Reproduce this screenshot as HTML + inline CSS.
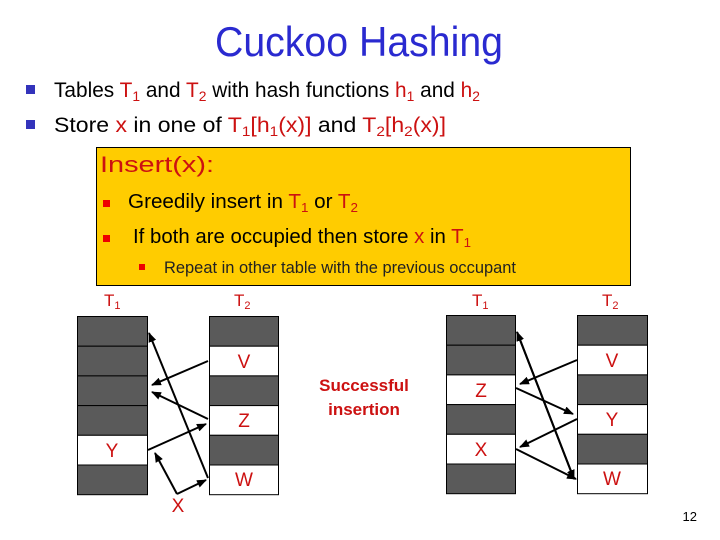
<!DOCTYPE html>
<html><head><meta charset="utf-8"><style>body{margin:0;background:#fff}svg{display:block}</style></head><body>
<svg width="720" height="540" viewBox="0 0 720 540" xmlns="http://www.w3.org/2000/svg" font-family="Liberation Sans, sans-serif">
<defs><marker id="a" markerWidth="10" markerHeight="8" refX="9" refY="4" orient="auto" markerUnits="userSpaceOnUse"><path d="M0,0 L10,4 L0,8 z" fill="#000"/></marker></defs>
<text x="359" y="56" text-anchor="middle" font-size="42" fill="#2a2ad0" textLength="288" lengthAdjust="spacingAndGlyphs">Cuckoo Hashing</text>
<rect x="26" y="85" width="9" height="9" fill="#3333bb"/>
<rect x="26" y="120" width="9" height="9" fill="#3333bb"/>
<text x="54" y="97" font-size="21" textLength="426" lengthAdjust="spacingAndGlyphs">Tables <tspan fill="#cc1111">T</tspan><tspan fill="#cc1111" font-size="14" dy="4">1</tspan><tspan dy="-4"> and </tspan><tspan fill="#cc1111">T</tspan><tspan fill="#cc1111" font-size="14" dy="4">2</tspan><tspan dy="-4"> with hash functions </tspan><tspan fill="#cc1111">h</tspan><tspan fill="#cc1111" font-size="14" dy="4">1</tspan><tspan dy="-4"> and </tspan><tspan fill="#cc1111">h</tspan><tspan fill="#cc1111" font-size="14" dy="4">2</tspan></text>
<text x="54" y="132" font-size="21" textLength="392" lengthAdjust="spacingAndGlyphs">Store <tspan fill="#cc1111">x</tspan> in one of <tspan fill="#cc1111">T</tspan><tspan fill="#cc1111" font-size="14" dy="4">1</tspan><tspan fill="#cc1111" dy="-4">[h</tspan><tspan fill="#cc1111" font-size="14" dy="4">1</tspan><tspan fill="#cc1111" dy="-4">(x)]</tspan> and <tspan fill="#cc1111">T</tspan><tspan fill="#cc1111" font-size="14" dy="4">2</tspan><tspan fill="#cc1111" dy="-4">[h</tspan><tspan fill="#cc1111" font-size="14" dy="4">2</tspan><tspan fill="#cc1111" dy="-4">(x)]</tspan></text>
<rect x="96.5" y="147.5" width="534" height="138" fill="#ffcc00" stroke="#000" stroke-width="1"/>
<text x="100" y="172" font-size="22" fill="#cc1111" textLength="114" lengthAdjust="spacingAndGlyphs">Insert(x):</text>
<rect x="103" y="200" width="7" height="7" fill="#ee0000"/>
<rect x="103" y="235" width="7" height="7" fill="#ee0000"/>
<rect x="139" y="264" width="6" height="6" fill="#ee0000"/>
<text x="128" y="208" font-size="20" textLength="230" lengthAdjust="spacingAndGlyphs">Greedily insert in <tspan fill="#cc1111">T</tspan><tspan fill="#cc1111" font-size="13" dy="4">1</tspan><tspan dy="-4"> or </tspan><tspan fill="#cc1111">T</tspan><tspan fill="#cc1111" font-size="13" dy="4">2</tspan></text>
<text x="133" y="243" font-size="20" textLength="338" lengthAdjust="spacingAndGlyphs">If both are occupied then store <tspan fill="#cc1111">x</tspan> in <tspan fill="#cc1111">T</tspan><tspan fill="#cc1111" font-size="13" dy="4">1</tspan></text>
<text x="164" y="273" font-size="17" fill="#222" textLength="352" lengthAdjust="spacingAndGlyphs">Repeat in other table with the previous occupant</text>
<g fill="#cc1111" font-size="17">
<text x="104" y="306">T<tspan font-size="11" dy="3">1</tspan></text>
<text x="234" y="306">T<tspan font-size="11" dy="3">2</tspan></text>
<text x="472" y="306">T<tspan font-size="11" dy="3">1</tspan></text>
<text x="602" y="306">T<tspan font-size="11" dy="3">2</tspan></text>
</g>
<g stroke="#000" stroke-width="1">
<rect x="77.5" y="316.5" width="70" height="29.7" fill="#5a5a5a"/><rect x="77.5" y="346.2" width="70" height="29.7" fill="#5a5a5a"/><rect x="77.5" y="375.9" width="70" height="29.7" fill="#5a5a5a"/><rect x="77.5" y="405.6" width="70" height="29.7" fill="#5a5a5a"/><rect x="77.5" y="435.3" width="70" height="29.7" fill="#fff"/><rect x="77.5" y="465" width="70" height="29.7" fill="#5a5a5a"/>
<rect x="209.5" y="316.5" width="69" height="29.7" fill="#5a5a5a"/><rect x="209.5" y="346.2" width="69" height="29.7" fill="#fff"/><rect x="209.5" y="375.9" width="69" height="29.7" fill="#5a5a5a"/><rect x="209.5" y="405.6" width="69" height="29.7" fill="#fff"/><rect x="209.5" y="435.3" width="69" height="29.7" fill="#5a5a5a"/><rect x="209.5" y="465" width="69" height="29.7" fill="#fff"/>
<rect x="446.5" y="315.5" width="69" height="29.7" fill="#5a5a5a"/><rect x="446.5" y="345.2" width="69" height="29.7" fill="#5a5a5a"/><rect x="446.5" y="374.9" width="69" height="29.7" fill="#fff"/><rect x="446.5" y="404.6" width="69" height="29.7" fill="#5a5a5a"/><rect x="446.5" y="434.3" width="69" height="29.7" fill="#fff"/><rect x="446.5" y="464" width="69" height="29.7" fill="#5a5a5a"/>
<rect x="577.5" y="315.5" width="70" height="29.7" fill="#5a5a5a"/><rect x="577.5" y="345.2" width="70" height="29.7" fill="#fff"/><rect x="577.5" y="374.9" width="70" height="29.7" fill="#5a5a5a"/><rect x="577.5" y="404.6" width="70" height="29.7" fill="#fff"/><rect x="577.5" y="434.3" width="70" height="29.7" fill="#5a5a5a"/><rect x="577.5" y="464" width="70" height="29.7" fill="#fff"/>
</g>
<g fill="#cc1111" font-size="19" text-anchor="middle">
<text x="244" y="368">V</text><text x="244" y="427">Z</text><text x="244" y="486">W</text>
<text x="112" y="457">Y</text><text x="178" y="512">X</text>
<text x="481" y="397">Z</text><text x="481" y="456">X</text>
<text x="612" y="367">V</text><text x="612" y="426">Y</text><text x="612" y="485">W</text>
</g>
<text x="364" y="391" text-anchor="middle" font-size="17" font-weight="bold" fill="#cc1111">Successful</text>
<text x="364" y="415" text-anchor="middle" font-size="17" font-weight="bold" fill="#cc1111">insertion</text>
<text x="697" y="521" text-anchor="end" font-size="13">12</text>
<g stroke="#000" stroke-width="2" fill="none" marker-end="url(#a)">
<line x1="208" y1="478" x2="149" y2="333"/>
<line x1="208" y1="361" x2="152" y2="385"/>
<line x1="208" y1="419" x2="152" y2="392"/>
<line x1="148" y1="450" x2="206" y2="424"/>
<line x1="177" y1="494" x2="155" y2="453"/>
<line x1="177" y1="494" x2="206" y2="480"/>
<line x1="577" y1="360" x2="520" y2="384"/>
<line x1="516" y1="388" x2="573" y2="414"/>
<line x1="577" y1="419" x2="520" y2="447"/>
<line x1="516" y1="449" x2="576" y2="479"/>
<line x1="574" y1="479" x2="517" y2="332"/>
<line x1="517" y1="332" x2="574" y2="479"/>
</g>
</svg>
</body></html>
